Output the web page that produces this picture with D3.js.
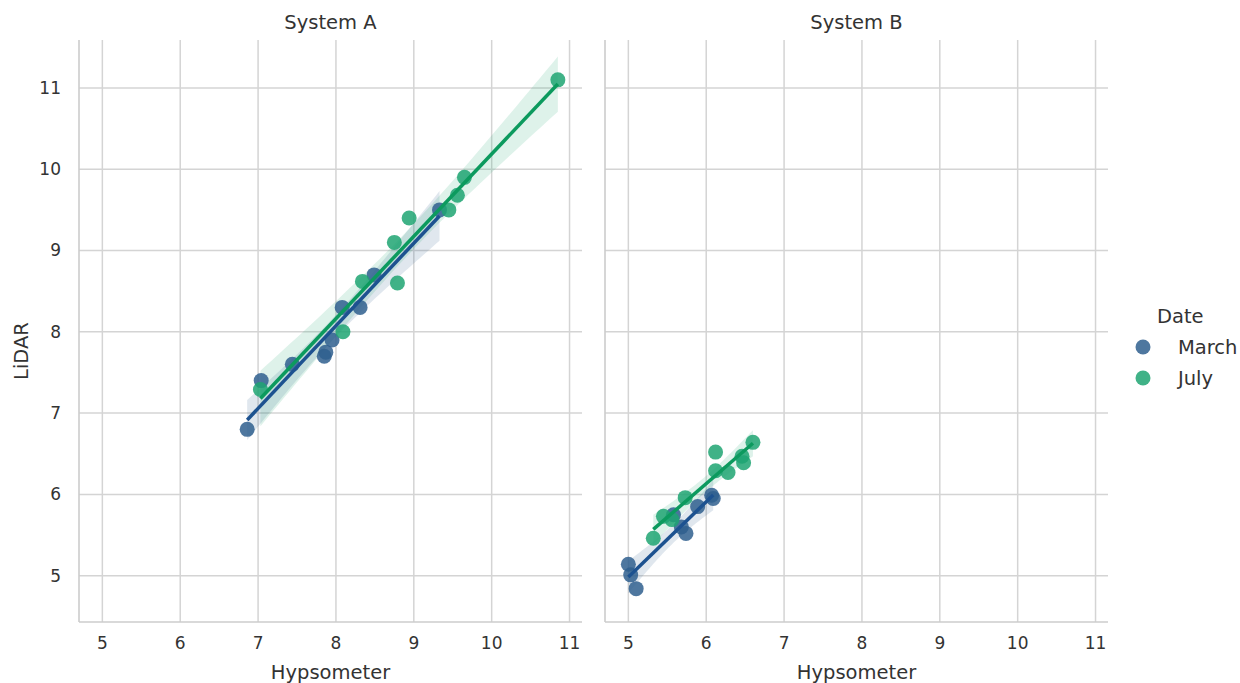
<!DOCTYPE html>
<html>
<head>
<meta charset="utf-8">
<script src="https://cdn.jsdelivr.net/npm/d3@7/dist/d3.min.js"></script>
<style>
  body { margin: 0; background: #fff; }
  svg text { font-family: "DejaVu Sans", sans-serif; fill: #333; }
</style>
</head>
<body>
<svg id="chart" width="1240" height="683"></svg>
<script>
// ---- data ----
const panels = ["System A", "System B"];
const dates = ["March", "July"];
const xTicks = [5, 6, 7, 8, 9, 10, 11];
const yTicks = [5, 6, 7, 8, 9, 10, 11];

const marchA_x = [6.86, 7.04, 7.44, 7.85, 7.87, 7.95, 8.08, 8.31, 8.49, 9.33];
const marchA_y = [6.80, 7.40, 7.60, 7.70, 7.75, 7.90, 8.30, 8.30, 8.70, 9.50];
const julyA_x  = [7.03, 8.09, 8.34, 8.75, 8.79, 8.94, 9.45, 9.56, 9.65, 10.85];
const julyA_y  = [7.29, 8.00, 8.62, 9.10, 8.60, 9.40, 9.50, 9.68, 9.90, 11.10];
const marchB_x = [5.00, 5.03, 5.10, 5.58, 5.68, 5.74, 5.89, 6.07, 6.09];
const marchB_y = [5.14, 5.01, 4.84, 5.75, 5.60, 5.52, 5.85, 5.99, 5.95];
const julyB_x  = [5.32, 5.45, 5.56, 5.73, 6.12, 6.12, 6.28, 6.46, 6.48, 6.60];
const julyB_y  = [5.46, 5.73, 5.69, 5.96, 6.52, 6.29, 6.27, 6.47, 6.39, 6.64];

const series = [
  { panel: "System A", date: "March", x: marchA_x, y: marchA_y },
  { panel: "System A", date: "July",  x: julyA_x,  y: julyA_y },
  { panel: "System B", date: "March", x: marchB_x, y: marchB_y },
  { panel: "System B", date: "July",  x: julyB_x,  y: julyB_y },
];

const pointColor = { March: "#2f5f8e", July: "#1fa572" };
const lineColor  = { March: "#1d5290", July: "#0c9a5e" };

// ---- layout ----
const svg = d3.select("#chart");
const plotTop = 40, plotBottom = 622;
const panelRanges = { "System A": [79, 582], "System B": [605, 1108] };
const y = d3.scaleLinear().domain([4.43, 11.59]).range([plotBottom, plotTop]);

function regression(xs, ys) {
  const n = xs.length;
  const mx = d3.mean(xs), my = d3.mean(ys);
  let sxx = 0, sxy = 0;
  xs.forEach((v, i) => { sxx += (v - mx) ** 2; sxy += (v - mx) * (ys[i] - my); });
  const b = sxy / sxx, a = my - b * mx;
  let sse = 0;
  xs.forEach((v, i) => { sse += (ys[i] - (a + b * v)) ** 2; });
  const s = Math.sqrt(sse / (n - 2));
  return { a, b, s, n, mx, sxx };
}

panels.forEach(p => {
  const [x0, x1] = panelRanges[p];
  const x = d3.scaleLinear().domain([4.7, 11.16]).range([x0, x1]);
  const g = svg.append("g");

  // grid
  g.selectAll(".vg").data(xTicks).enter().append("line")
    .attr("x1", d => x(d)).attr("x2", d => x(d))
    .attr("y1", plotTop).attr("y2", plotBottom)
    .attr("stroke", "#d4d4d4").attr("stroke-width", 1.5);
  g.selectAll(".hg").data(yTicks).enter().append("line")
    .attr("x1", x0).attr("x2", x1)
    .attr("y1", d => y(d)).attr("y2", d => y(d))
    .attr("stroke", "#d4d4d4").attr("stroke-width", 1.5);

  // spines
  g.append("line").attr("x1", x0).attr("x2", x0).attr("y1", plotTop).attr("y2", plotBottom)
    .attr("stroke", "#cccccc").attr("stroke-width", 1.6);
  g.append("line").attr("x1", x0).attr("x2", x1).attr("y1", plotBottom).attr("y2", plotBottom)
    .attr("stroke", "#cccccc").attr("stroke-width", 1.6);

  // x tick labels
  g.selectAll(".xt").data(xTicks).enter().append("text")
    .attr("x", d => x(d)).attr("y", 649)
    .attr("text-anchor", "middle").attr("font-size", 17).text(d => d);
  g.append("text").attr("x", (x0 + x1) / 2).attr("y", 679)
    .attr("text-anchor", "middle").attr("font-size", 19.5).text("Hypsometer");
  g.append("text").attr("x", (x0 + x1) / 2).attr("y", 29)
    .attr("text-anchor", "middle").attr("font-size", 19.5).text(p);

  if (p === "System A") {
    g.selectAll(".yt").data(yTicks).enter().append("text")
      .attr("x", 61).attr("y", d => y(d)).attr("dy", "0.35em")
      .attr("text-anchor", "end").attr("font-size", 17).text(d => d);
    g.append("text").attr("transform", `translate(28,${(plotTop + plotBottom) / 2 + 20}) rotate(-90)`)
      .attr("text-anchor", "middle").attr("font-size", 19.5).text("LiDAR");
  }

  const ser = series.filter(s => s.panel === p);

  // bands + lines
  ser.forEach(s => {
    const r = regression(s.x, s.y);
    const t = 2.306;
    const xs = d3.range(0, 51).map(i => d3.min(s.x) + (d3.max(s.x) - d3.min(s.x)) * i / 50);
    const band = xs.map(v => {
      const yh = r.a + r.b * v;
      const se = r.s * Math.sqrt(1 / r.n + (v - r.mx) ** 2 / r.sxx);
      return { v, lo: yh - t * se, hi: yh + t * se };
    });
    g.append("path").datum(band)
      .attr("d", d3.area().x(d => x(d.v)).y0(d => y(d.lo)).y1(d => y(d.hi)))
      .attr("fill", pointColor[s.date]).attr("fill-opacity", 0.15);
    s.reg = r;
  });

  ser.forEach(s => {
    g.selectAll(null).data(s.x.map((v, i) => [v, s.y[i]])).enter().append("circle")
      .attr("cx", d => x(d[0])).attr("cy", d => y(d[1])).attr("r", 7.5)
      .attr("fill", pointColor[s.date]).attr("fill-opacity", 0.85);
  });

  ser.forEach(s => {
    const r = s.reg;
    const xa = d3.min(s.x), xb = d3.max(s.x);
    g.append("line")
      .attr("x1", x(xa)).attr("y1", y(r.a + r.b * xa))
      .attr("x2", x(xb)).attr("y2", y(r.a + r.b * xb))
      .attr("stroke", lineColor[s.date]).attr("stroke-width", 3.5);
  });
});

// legend
const lg = svg.append("g");
lg.append("text").attr("x", 1157).attr("y", 323).attr("font-size", 19.5).text("Date");
dates.forEach((d, i) => {
  lg.append("circle").attr("cx", 1143).attr("cy", 347 + i * 31).attr("r", 7.5)
    .attr("fill", pointColor[d]).attr("fill-opacity", 0.85);
  lg.append("text").attr("x", 1178).attr("y", 347 + i * 31).attr("dy", "0.35em")
    .attr("font-size", 19.5).text(d);
});
</script>
</body>
</html>
